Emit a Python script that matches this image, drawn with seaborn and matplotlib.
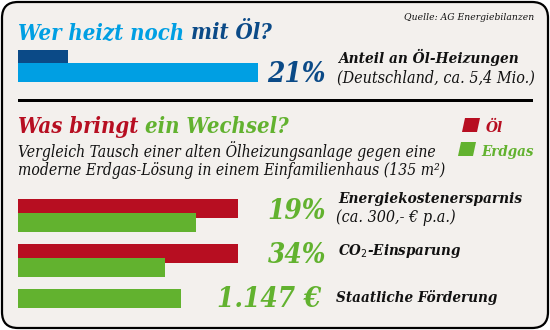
import matplotlib
matplotlib.use("Agg")
import matplotlib.pyplot as plt
import seaborn as sns
import pandas as pd
from matplotlib.patches import FancyBboxPatch, Rectangle, Polygon

# ---------------- data ----------------
top_series = ["Öl-Heizungen", "Alle Heizungen"]
top_values = [21, 100]
top_label_value = "21%"

groups = ["Energiekostenersparnis", "CO2-Einsparung", "Staatliche Förderung"]
oel_values = [100, 100, None]
erdgas_values = [81, 67, None]
foerderung_bar = [None, None, 74]
value_labels = ["19%", "34%", "1.147 €"]

# ---------------- style ----------------
sns.set_theme(style="white")
plt.rcParams["font.family"] = ["DejaVu Serif"]
plt.rcParams["font.stretch"] = "condensed"

BG = "#f3f0ed"
LBLUE = "#009fe3"
DBLUE = "#0b4a87"
RED = "#b70e21"
GREEN = "#62b22f"
INK = "#111111"

W, H = 550, 330
fig = plt.figure(figsize=(W / 100, H / 100), dpi=100)
fig.patch.set_facecolor("white")

bg = fig.add_axes([0, 0, 1, 1])
bg.set_xlim(0, W)
bg.set_ylim(H, 0)
bg.axis("off")
bg.add_patch(FancyBboxPatch((2, 2), W - 4, H - 4,
                            boxstyle="round,pad=0,rounding_size=16",
                            fc=BG, ec="black", lw=1.6))
# separator
bg.add_patch(Rectangle((18, 99), 515, 3, fc="black", ec="none"))


def px_axes(x0, y0, x1, y1):
    return fig.add_axes([x0 / W, 1 - y1 / H, (x1 - x0) / W, (y1 - y0) / H])


# ---------------- top bars ----------------
ax1 = px_axes(18, 50, 258, 82)
df_top = pd.DataFrame({"grp": ["a", "a"], "series": top_series, "value": top_values})
sns.barplot(data=df_top, y="grp", x="value", hue="series", orient="h",
            palette=[DBLUE, LBLUE], dodge=True, width=1.0, legend=False,
            saturation=1, linewidth=0, edgecolor="none", ax=ax1)
ax1.set_xlim(0, 100)
ax1.set_ylim(0.5, -0.5)
for p in ax1.patches:
    if p.get_width() > 50:
        h = p.get_height()
        p.set_y(p.get_y() - h * 0.19)
        p.set_height(h * 1.19)
        p.set_zorder(3)
    else:
        p.set_zorder(2)
ax1.axis("off")

# ---------------- bottom bars ----------------
ax2 = px_axes(18, 193, 238, 328)
rows = []
for g, o, e, f in zip(groups, oel_values, erdgas_values, foerderung_bar):
    if o is not None:
        rows.append((g, "Öl", o))
    if e is not None:
        rows.append((g, "Erdgas", e))
    if f is not None:
        rows.append((g, "Förderung", f))
df = pd.DataFrame(rows, columns=["group", "series", "value"])
sns.barplot(data=df, y="group", x="value", hue="series", orient="h",
            hue_order=["Öl", "Erdgas", "Förderung"],
            palette=[RED, GREEN, GREEN], dodge=True, width=0.933,
            legend=False, saturation=1, linewidth=0, edgecolor="none", ax=ax2)
ax2.set_xlim(0, 100)
ax2.set_ylim(2.5, -0.5)
# one unit = 45 px; bars are 19 px, red slot on top, green slot 14 px lower
unit = 45.0
for p in ax2.patches:
    w = p.get_width()
    if w != w or w == 0:
        continue
    h = p.get_height()
    cy = p.get_y() + h / 2
    gi = round(cy)
    is_red = p.get_facecolor()[0] > 0.5
    if is_red or gi == 2:
        top = gi - 16.5 / unit
    else:
        top = gi - 2.5 / unit
    p.set_y(top)
    p.set_height(19 / unit)
    p.set_zorder(2 if is_red else 3)
ax2.axis("off")

# ---------------- texts ----------------
TB = dict(fontweight="bold", fontstyle="italic", va="baseline")
TI = dict(fontstyle="italic", va="baseline")


def two_tone(x, y, a, ca, b, cb, size):
    t = bg.text(x, y, a, color=ca, fontsize=size, **TB)
    fig.canvas.draw()
    bb = t.get_window_extent()
    bg.text(x + bb.width, y, b, color=cb, fontsize=size, **TB)


two_tone(18, 39, "Wer heizt noch ", LBLUE, "mit Öl?", DBLUE, 15.8)

bg.text(534, 20, "Quelle: AG Energiebilanzen", ha="right", fontsize=7.4,
        color=INK, **TI)

bg.text(326, 82, top_label_value, ha="right", color=DBLUE, fontsize=20, **TB)
bg.text(338, 63, "Anteil an Öl-Heizungen", color=INK, fontsize=11, **TB)
bg.text(337, 82, "(Deutschland, ca. 5,4 Mio.)", color=INK, fontsize=11.5, **TI)

two_tone(18, 133, "Was bringt ", RED, "ein Wechsel?", GREEN, 15.8)

bg.text(18, 157, "Vergleich Tausch einer alten Ölheizungsanlage gegen eine",
        color=INK, fontsize=11.25, **TI)
bg.text(18, 175, "moderne Erdgas-Lösung in einem Einfamilienhaus (135 m²)",
        color=INK, fontsize=11.25, **TI)

# legend
bg.add_patch(Polygon([(465, 118), (480, 118), (477, 132), (462, 132)],
                     closed=True, fc=RED, ec="none"))
bg.text(486, 132, "Öl", color=RED, fontsize=11, **TB)
bg.add_patch(Polygon([(461, 142), (476, 142), (473, 156), (458, 156)],
                     closed=True, fc=GREEN, ec="none"))
bg.text(481, 156, "Erdgas", color=GREEN, fontsize=10.8, **TB)

# values
bg.text(326, 219, value_labels[0], ha="right", color=GREEN, fontsize=20, **TB)
bg.text(326, 263, value_labels[1], ha="right", color=GREEN, fontsize=20, **TB)
bg.text(321, 307, value_labels[2], ha="right", color=GREEN, fontsize=20, **TB)

bg.text(338, 203, "Energiekostenersparnis", color=INK, fontsize=11, **TB)
bg.text(336, 222, "(ca. 300,- € p.a.)", color=INK, fontsize=11.5, **TI)
bg.text(338, 255, "CO$_2$-Einsparung", color=INK, fontsize=10.8, **TB)
bg.text(336, 302, "Staatliche Förderung", color=INK, fontsize=10.9, **TB)

fig.savefig("out.png", dpi=100, facecolor="white")
